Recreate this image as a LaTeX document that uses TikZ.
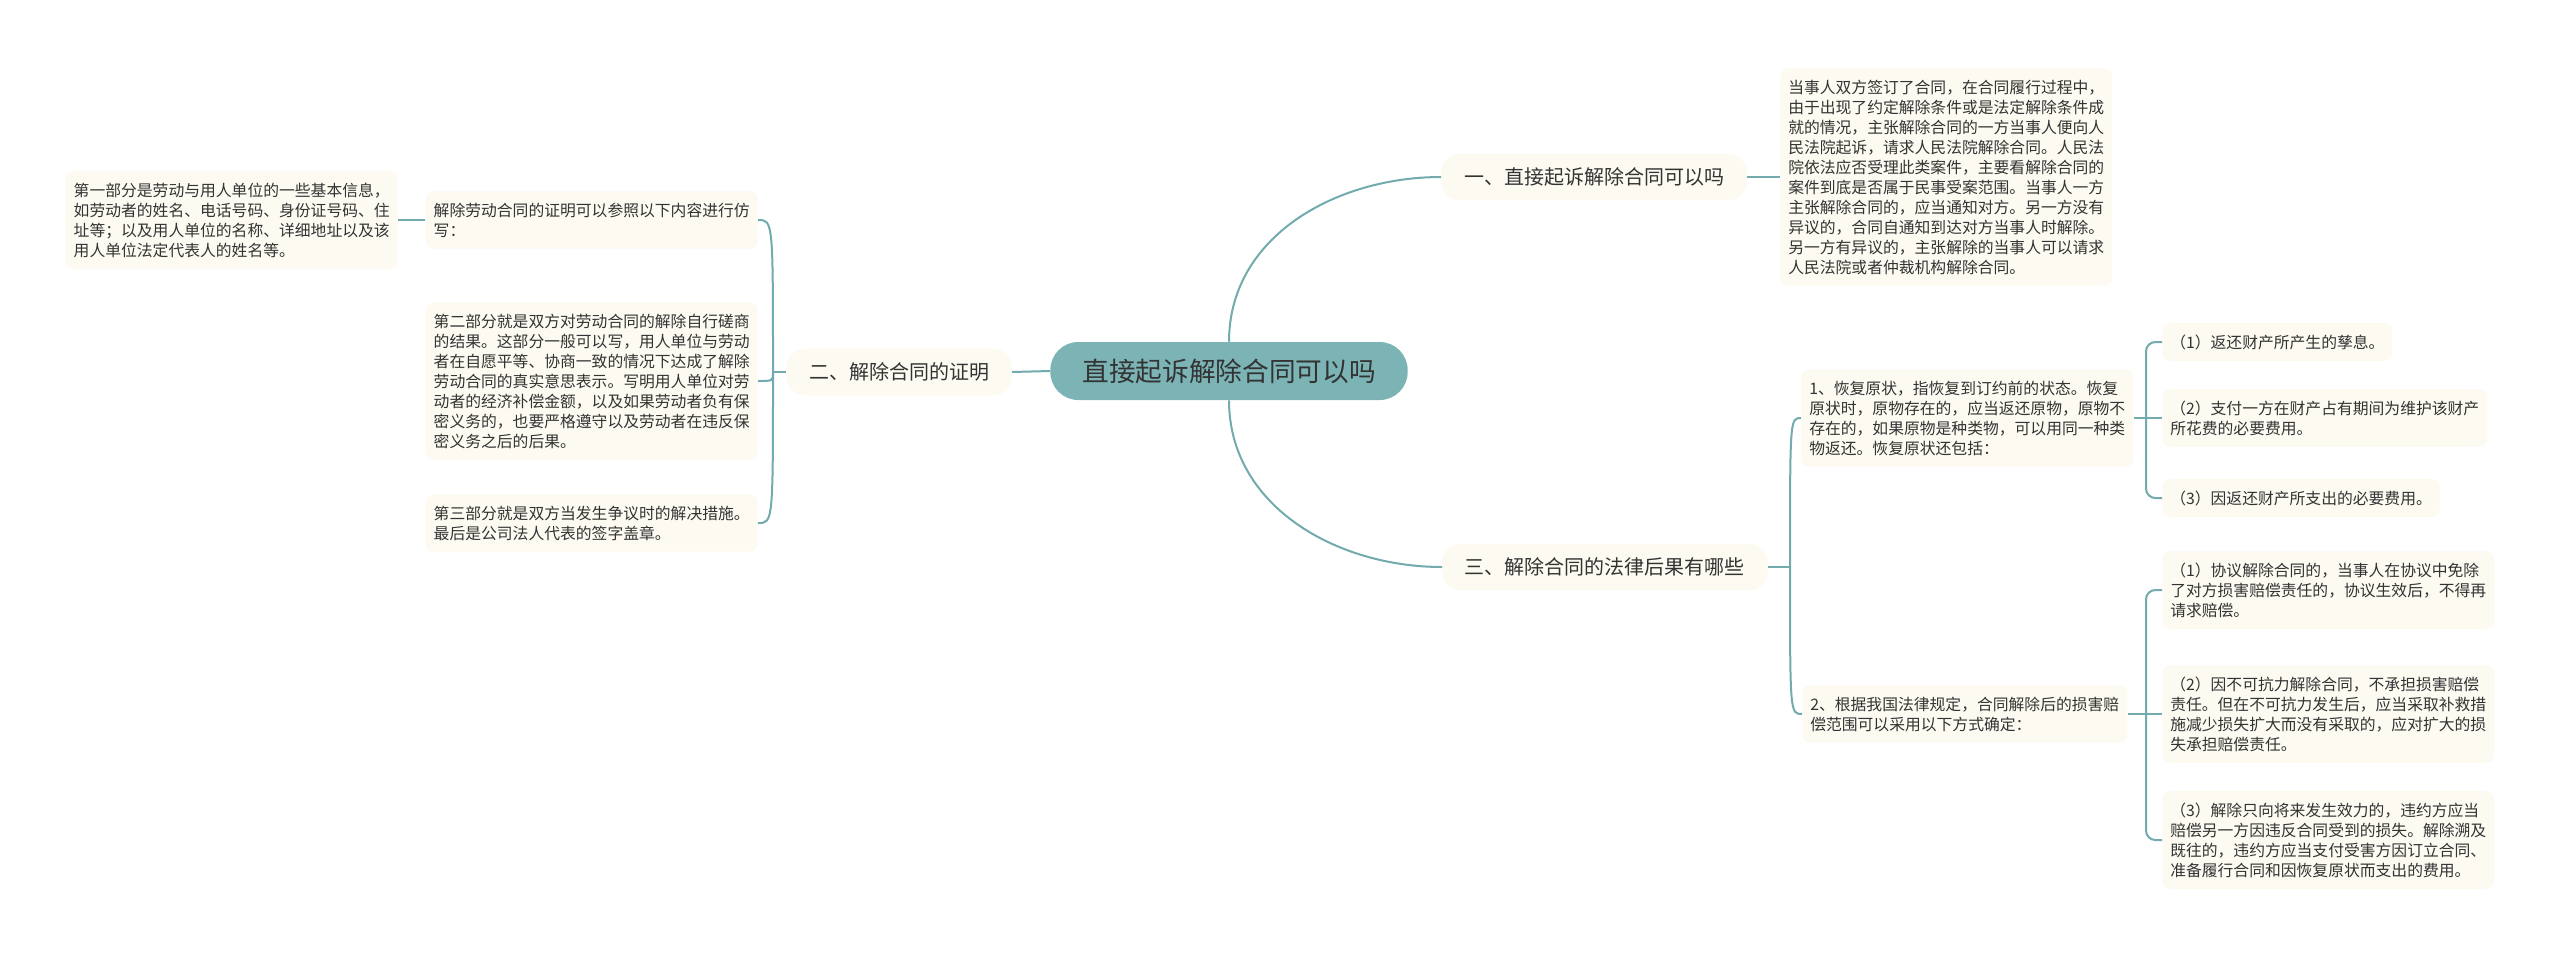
\documentclass[tikz,border=0pt]{standalone}
\usepackage{fontspec}
\setmainfont{Noto Sans CJK SC}
\definecolor{xianse}{HTML}{72AAAD}
\definecolor{gense}{HTML}{7CB4B6}
\definecolor{diese}{HTML}{FCFAF1}
\definecolor{zise}{HTML}{333333}

\begin{document}
\begin{tikzpicture}[x=0.75pt, y=-0.75pt,
    lian/.style={draw=xianse, line width=1.5pt},
    gen/.style={fill=gense, text=zise, rounded corners=21pt, minimum width=268pt, minimum height=43.5pt, inner sep=0pt, font=\fontsize{20}{24}\selectfont},
    zhi/.style={fill=diese, text=zise, rounded corners=14pt, minimum height=35pt, inner xsep=17pt, inner ysep=0pt, font=\fontsize{15}{18}\selectfont},
    ye/.style={fill=diese, text=zise, rounded corners=6pt, align=left, inner xsep=6pt, inner ysep=8.5pt, font=\fontsize{11.85}{15}\selectfont}]
    \useasboundingbox (0,0) rectangle (2560,957);
    \fill[white] (0,0) rectangle (2560,957);

    % 1. 中心主题
    \node[gen] (gen) at (1229,371) {直接起诉解除合同可以吗};

    % 2. 三个分支
    \node[zhi] (b1) at (1594,177) {一、直接起诉解除合同可以吗};
    \node[zhi, anchor=east] (b2) at (1012,372) {二、解除合同的证明};
    \node[zhi, anchor=west] (b3) at (1442,567) {三、解除合同的法律后果有哪些};

    % 3. 分支一的内容
    \node[ye, anchor=west] (y1) at (1780,177) {当事人双方签订了合同，在合同履行过程中，\\由于出现了约定解除条件或是法定解除条件成\\就的情况，主张解除合同的一方当事人便向人\\民法院起诉，请求人民法院解除合同。人民法\\院依法应否受理此类案件，主要看解除合同的\\案件到底是否属于民事受案范围。当事人一方\\主张解除合同的，应当通知对方。另一方没有\\异议的，合同自通知到达对方当事人时解除。\\另一方有异议的，主张解除的当事人可以请求\\人民法院或者仲裁机构解除合同。};

    % 4. 分支二的内容
    \node[ye, anchor=east] (y21) at (758,220) {解除劳动合同的证明可以参照以下内容进行仿\\写：};
    \node[ye, anchor=east] (y211) at (398,220) {第一部分是劳动与用人单位的一些基本信息，\\如劳动者的姓名、电话号码、身份证号码、住\\址等；以及用人单位的名称、详细地址以及该\\用人单位法定代表人的姓名等。};
    \node[ye, anchor=east] (y22) at (758,381) {第二部分就是双方对劳动合同的解除自行磋商\\的结果。这部分一般可以写，用人单位与劳动\\者在自愿平等、协商一致的情况下达成了解除\\劳动合同的真实意思表示。写明用人单位对劳\\动者的经济补偿金额，以及如果劳动者负有保\\密义务的，也要严格遵守以及劳动者在违反保\\密义务之后的后果。};
    \node[ye, anchor=east] (y23) at (758,523) {第三部分就是双方当发生争议时的解决措施。\\最后是公司法人代表的签字盖章。};

    % 5. 分支三的内容
    \node[ye, anchor=west] (y31) at (1801,418) {1、恢复原状，指恢复到订约前的状态。恢复\\原状时，原物存在的，应当返还原物，原物不\\存在的，如果原物是种类物，可以用同一种类\\物返还。恢复原状还包括：};
    \node[ye, anchor=west] (y32) at (1802,714) {2、根据我国法律规定，合同解除后的损害赔\\偿范围可以采用以下方式确定：};

    \node[ye, anchor=west] (y311) at (2162,342) {（1）返还财产所产生的孳息。};
    \node[ye, anchor=west] (y312) at (2162,418) {（2）支付一方在财产占有期间为维护该财产\\所花费的必要费用。};
    \node[ye, anchor=west] (y313) at (2162,498) {（3）因返还财产所支出的必要费用。};

    \node[ye, anchor=west] (y321) at (2162,590) {（1）协议解除合同的，当事人在协议中免除\\了对方损害赔偿责任的，协议生效后，不得再\\请求赔偿。};
    \node[ye, anchor=west] (y322) at (2162,714) {（2）因不可抗力解除合同，不承担损害赔偿\\责任。但在不可抗力发生后，应当采取补救措\\施减少损失扩大而没有采取的，应对扩大的损\\失承担赔偿责任。};
    \node[ye, anchor=west] (y323) at (2162,840) {（3）解除只向将来发生效力的，违约方应当\\赔偿另一方因违反合同受到的损失。解除溯及\\既往的，违约方应当支付受害方因订立合同、\\准备履行合同和因恢复原状而支出的费用。};

    % 6. 连线
    \draw[lian] (gen.north) to[out=90, in=180] (b1.west);
    \draw[lian] (gen.south) to[out=-90, in=180] (b3.west);
    \draw[lian] (gen.west) -- (b2.east);
    \draw[lian] (b1.east) -- (y1.west);

    \coordinate (k2) at (773,372);
    \draw[lian] (b2.west) -- (k2);
    \foreach \c in {y21,y22,y23}
        \draw[lian] (k2) .. controls (k2 |- \c.east) .. (\c.east);
    \draw[lian] (y21.west) -- (y211.east);

    \coordinate (k3) at (1790,567);
    \draw[lian] (b3.east) -- (k3);
    \foreach \c in {y31,y32}
        \draw[lian] (k3) .. controls (k3 |- \c.west) .. (\c.west);

    \coordinate (k4) at (2146,418);
    \draw[lian] (y31.east) -- (y312.west);
    \foreach \c in {y311,y313}
        \draw[lian, rounded corners=7pt] (k4) -- (k4 |- \c.west) -- (\c.west);

    \coordinate (k5) at (2146,714);
    \draw[lian] (y32.east) -- (y322.west);
    \foreach \c in {y321,y323}
        \draw[lian, rounded corners=7pt] (k5) -- (k5 |- \c.west) -- (\c.west);

\end{tikzpicture}
\end{document}
